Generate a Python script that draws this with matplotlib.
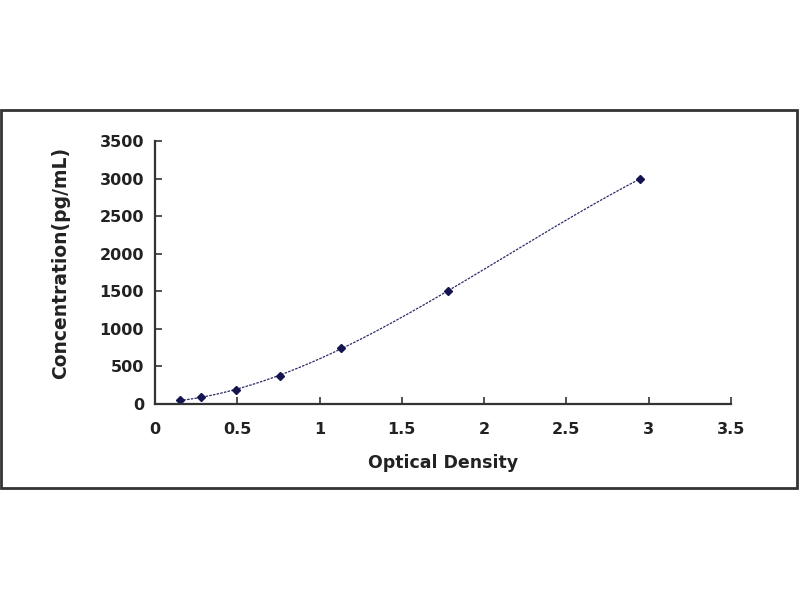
import numpy as np
import matplotlib
matplotlib.use("Agg")
import matplotlib.pyplot as plt
from matplotlib.patches import Rectangle

optical_density = [0.15, 0.28, 0.49, 0.76, 1.13, 1.78, 2.95]
concentration = [46.875, 93.75, 187.5, 375, 750, 1500, 3000]
x_ticks = [0, 0.5, 1, 1.5, 2, 2.5, 3, 3.5]
y_ticks = [0, 500, 1000, 1500, 2000, 2500, 3000, 3500]

plt.rcParams['font.family'] = ['DejaVu Sans']

fig = plt.figure(figsize=(8, 6), dpi=100)
fig.patches.append(Rectangle((1/800, 1 - 488/600), 796/800, 378/600,
                             transform=fig.transFigure, fill=False,
                             edgecolor='#333333', linewidth=2))

ax = fig.add_axes([155/800, 1 - 404/600, (731-155)/800, (404-141)/600])
ax.set_xlim(0, 3.5)
ax.set_ylim(0, 3500)

coef = np.polyfit(optical_density, concentration, 3)
xs = np.linspace(min(optical_density), max(optical_density), 200)
ax.plot(xs, np.polyval(coef, xs), color='#2a2a6a', linewidth=0.9, linestyle=(0, (2, 1)))
ax.plot(optical_density, concentration, linestyle='none', marker='D',
        markersize=4, color='#141450')

for s in ['top', 'right']:
    ax.spines[s].set_visible(False)
for s in ['left', 'bottom']:
    ax.spines[s].set_linewidth(1.6)
    ax.spines[s].set_color('#333333')

ax.set_xticks(x_ticks)
ax.set_xticklabels([f'{t:g}' for t in x_ticks])
ax.set_yticks(y_ticks)
ax.set_yticklabels([str(t) for t in y_ticks])
ax.tick_params(direction='in', length=5, width=1.2, color='#333333',
               labelsize=11.5)
ax.tick_params(axis='y', pad=8)
ax.tick_params(axis='x', pad=13)
for lab in ax.get_xticklabels() + ax.get_yticklabels():
    lab.set_fontweight('bold')
    lab.set_color('#222222')

ax.set_xlabel('Optical Density', fontsize=12.5, fontweight='bold', labelpad=12, color='#222222')
ax.set_ylabel('Concentration(pg/mL)', fontsize=13.5, fontweight='bold', color='#222222')
ax.yaxis.set_label_coords(-0.148, 0.538)

fig.savefig('out.png', dpi=100)
